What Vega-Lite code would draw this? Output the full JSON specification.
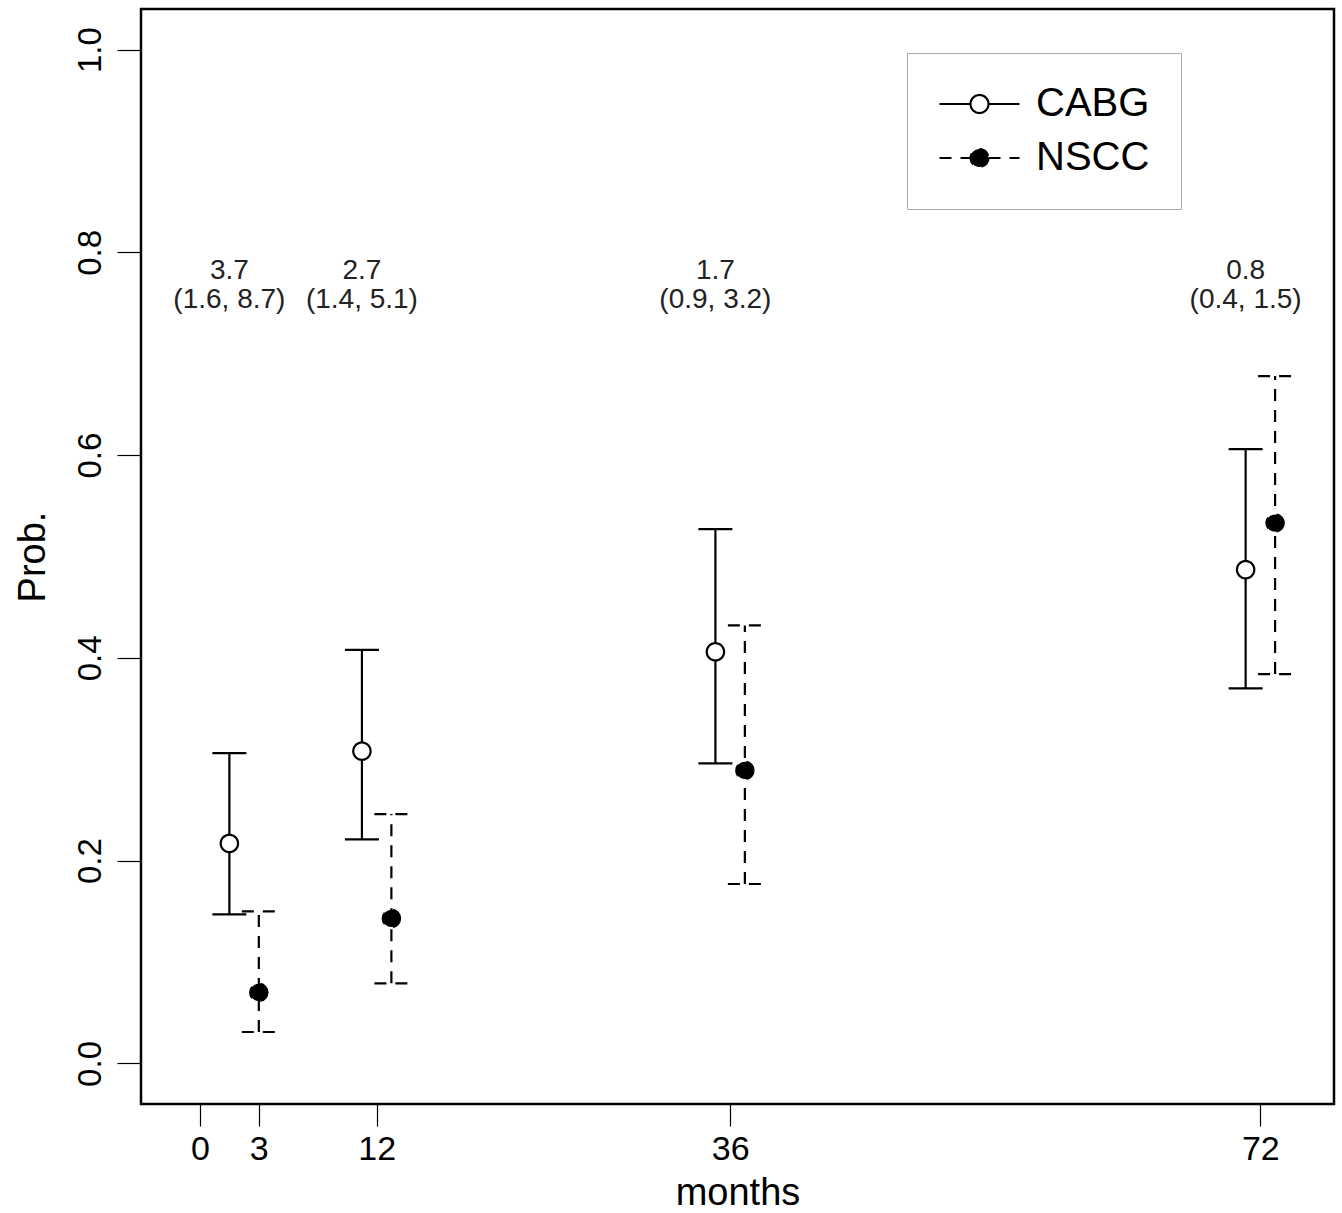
{
  "$schema": "https://vega.github.io/schema/vega-lite/v6.json",
  "width": 1193,
  "height": 1095,
  "autosize": {"type": "none"},
  "padding": {"left": 141, "top": 9, "right": 8, "bottom": 109},
  "background": "white",
  "config": {
    "font": "Liberation Sans",
    "view": {"stroke": "black", "strokeWidth": 2.5},
    "axis": {"grid": false, "domain": false, "tickColor": "black", "tickWidth": 1.2, "labelColor": "black", "titleColor": "black", "labelFont": "Liberation Sans", "titleFont": "Liberation Sans", "titleFontWeight": "normal"},
    "legend": {
      "orient": "none", "legendX": 766, "legendY": 44, "title": null,
      "symbolType": "M-1,0L-0.225,0M0.225,0L1,0M0.225,0A0.225,0.225,0,1,1,-0.225,0A0.225,0.225,0,1,1,0.225,0Z",
      "symbolSize": 6400, "symbolStrokeColor": "black", "symbolStrokeWidth": 2.2,
      "labelFontSize": 40, "labelFont": "Liberation Sans", "labelColor": "black", "labelOffset": 15, "labelLimit": 0,
      "clipHeight": 40, "rowPadding": 14, "padding": 31, "strokeColor": "#aaa", "fillColor": "white"
    }
  },
  "datasets": {
    "est": [
      {"month": 3, "group": "CABG", "p": 0.217, "lo": 0.147, "hi": 0.306},
      {"month": 3, "group": "NSCC", "p": 0.070, "lo": 0.031, "hi": 0.150},
      {"month": 12, "group": "CABG", "p": 0.308, "lo": 0.221, "hi": 0.408},
      {"month": 12, "group": "NSCC", "p": 0.143, "lo": 0.079, "hi": 0.246},
      {"month": 36, "group": "CABG", "p": 0.406, "lo": 0.296, "hi": 0.527},
      {"month": 36, "group": "NSCC", "p": 0.289, "lo": 0.177, "hi": 0.432},
      {"month": 72, "group": "CABG", "p": 0.487, "lo": 0.370, "hi": 0.606},
      {"month": 72, "group": "NSCC", "p": 0.533, "lo": 0.384, "hi": 0.678}
    ],
    "ann": [
      {"month": 3, "or": "3.7", "ci": "(1.6, 8.7)"},
      {"month": 12, "or": "2.7", "ci": "(1.4, 5.1)"},
      {"month": 36, "or": "1.7", "ci": "(0.9, 3.2)"},
      {"month": 72, "or": "0.8", "ci": "(0.4, 1.5)"}
    ]
  },
  "encoding": {
    "x": {
      "field": "month", "type": "quantitative",
      "scale": {"domain": [-4, 77], "nice": false, "zero": false},
      "axis": {"title": "months", "values": [0, 4, 12, 36, 72], "labelExpr": "datum.value == 4 ? '3' : datum.label", "labelFontSize": 34, "tickSize": 22, "labelPadding": 6, "titleFontSize": 38, "titlePadding": 8, "labelFlush": false, "labelOverlap": false}
    }
  },
  "layer": [
    {
      "data": {"name": "est"},
      "transform": [{"filter": "datum.group == 'CABG'"}],
      "encoding": {
        "y": {"field": "p", "type": "quantitative", "scale": {"domain": [-0.04, 1.04], "nice": false, "zero": false},
          "axis": {"title": "Prob.", "values": [0, 0.2, 0.4, 0.6, 0.8, 1], "format": ".1f", "labelAngle": -90, "labelAlign": "center", "labelBaseline": "bottom", "labelFontSize": 33, "tickSize": 24, "labelPadding": 10, "titleFontSize": 38, "titlePadding": 22}},
        "strokeDash": {"field": "group", "type": "nominal", "scale": {"domain": ["CABG", "NSCC"], "range": [[1, 0], [12, 9]]}}
      },
      "layer": [
        {"mark": {"type": "rule", "strokeWidth": 2.2, "color": "black", "xOffset": -14.73},
         "encoding": {"y": {"field": "lo", "type": "quantitative"}, "y2": {"field": "hi"}}},
        {"mark": {"type": "point", "shape": "M-1,0L1,0", "size": 1156, "filled": false, "stroke": "black", "strokeWidth": 2.2, "opacity": 1, "xOffset": -14.73},
         "encoding": {"y": {"field": "hi", "type": "quantitative"}}},
        {"mark": {"type": "point", "shape": "M-1,0L1,0", "size": 1156, "filled": false, "stroke": "black", "strokeWidth": 2.2, "opacity": 1, "xOffset": -14.73},
         "encoding": {"y": {"field": "lo", "type": "quantitative"}}},
        {"mark": {"type": "point", "shape": "circle", "size": 300, "filled": true, "stroke": "black", "strokeWidth": 2.2, "opacity": 1, "xOffset": -14.73},
         "encoding": {"fill": {"field": "group", "type": "nominal", "scale": {"domain": ["CABG", "NSCC"], "range": ["white", "black"]}}}}
      ]
    },
    {
      "data": {"name": "est"},
      "transform": [{"filter": "datum.group == 'NSCC'"}],
      "encoding": {
        "y": {"field": "p", "type": "quantitative"},
        "strokeDash": {"field": "group", "type": "nominal"}
      },
      "layer": [
        {"mark": {"type": "rule", "strokeWidth": 2.2, "color": "black", "xOffset": 14.73},
         "encoding": {"y": {"field": "lo", "type": "quantitative"}, "y2": {"field": "hi"}}},
        {"mark": {"type": "point", "shape": "M-1,0L1,0", "size": 1156, "filled": false, "stroke": "black", "strokeWidth": 2.2, "opacity": 1, "xOffset": 14.73},
         "encoding": {"y": {"field": "hi", "type": "quantitative"}}},
        {"mark": {"type": "point", "shape": "M-1,0L1,0", "size": 1156, "filled": false, "stroke": "black", "strokeWidth": 2.2, "opacity": 1, "xOffset": 14.73},
         "encoding": {"y": {"field": "lo", "type": "quantitative"}}},
        {"mark": {"type": "point", "shape": "circle", "size": 300, "filled": true, "stroke": "black", "strokeWidth": 2.2, "opacity": 1, "xOffset": 14.73},
         "encoding": {"fill": {"field": "group", "type": "nominal"}}}
      ]
    },
    {
      "data": {"name": "ann"},
      "mark": {"type": "text", "fontSize": 28, "baseline": "middle", "align": "center", "color": "#222", "xOffset": -14.73},
      "encoding": {"y": {"datum": 0.782, "type": "quantitative"}, "text": {"field": "or", "type": "nominal"}}
    },
    {
      "data": {"name": "ann"},
      "mark": {"type": "text", "fontSize": 28, "baseline": "middle", "align": "center", "color": "#222", "xOffset": -14.73},
      "encoding": {"y": {"datum": 0.753, "type": "quantitative"}, "text": {"field": "ci", "type": "nominal"}}
    }
  ]
}
